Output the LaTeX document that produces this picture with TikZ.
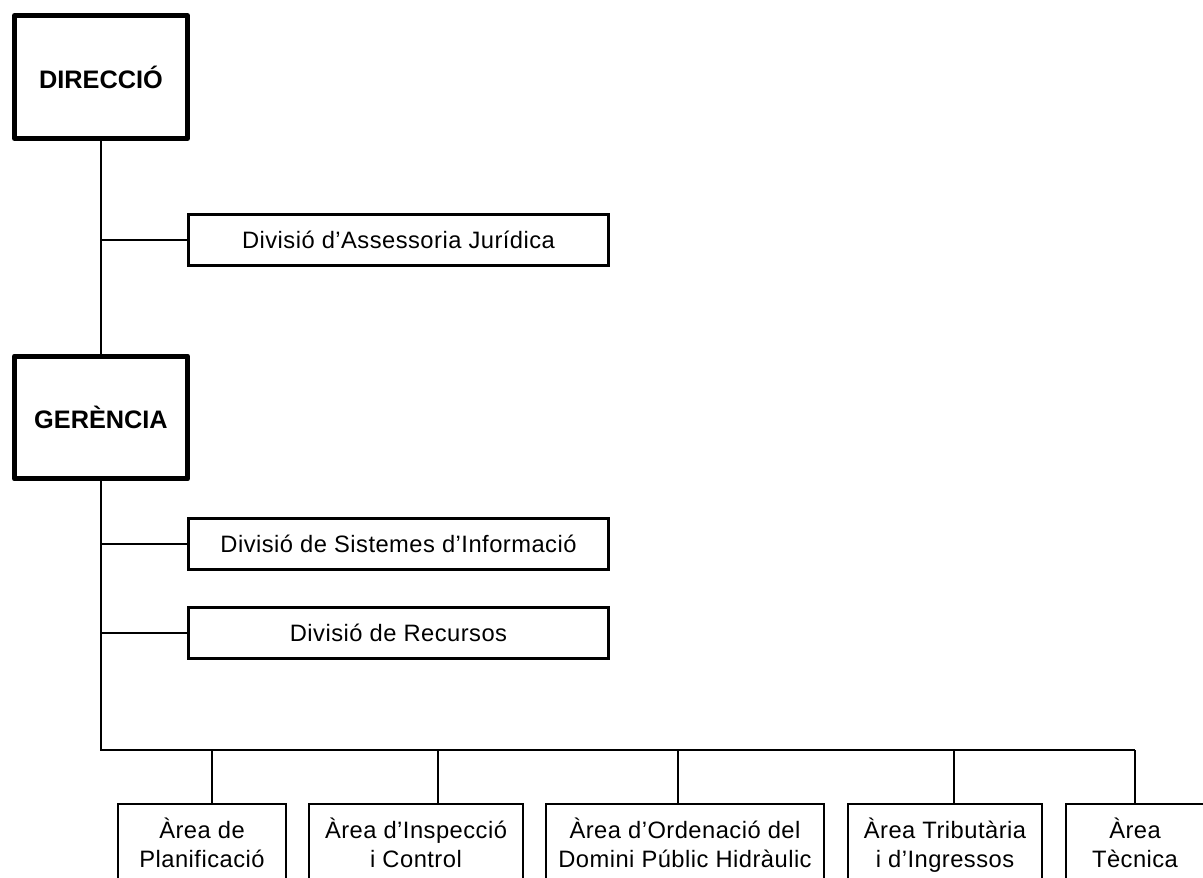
\documentclass[tikz,border=0pt]{standalone}
\usepackage{fontspec}
\setmainfont[LetterSpace=2]{Liberation Sans}
\newfontfamily\headfont{Liberation Sans}
\usetikzlibrary{positioning}

\begin{document}
\begin{tikzpicture}[x=0.02cm,y=-0.02cm,
  headbox/.style={draw,line width=0.1cm,line join=round,minimum width=3.46cm,minimum height=2.46cm,inner sep=0pt,font=\headfont\bfseries\fontsize{14.4pt}{17pt}\selectfont},
  divbox/.style={draw,line width=0.06cm,minimum width=8.4cm,minimum height=1.04cm,inner sep=0pt,font=\fontsize{13.5pt}{16pt}\selectfont},
  areabox/.style={draw,line width=0.04cm,minimum height=1.54cm,inner sep=0pt,align=center,text depth=0pt,font=\fontsize{13.5pt}{16.5pt}\selectfont},
  link/.style={line width=0.04cm}]
	 \useasboundingbox (0,0) rectangle (1203,878);
	 \node[headbox] (direccio) at (101,77) {DIRECCIÓ};
	 \node[headbox] (gerencia) at (101,417.5) {GERÈNCIA};
	 \node[divbox] (assessoria) at (398.5,240) {Divisió d’Assessoria Jurídica};
	 \node[divbox] (sistemes) at (398.5,544) {Divisió de Sistemes d’Informació};
	 \node[divbox] (recursos) at (398.5,633) {Divisió de Recursos};
	 \node[areabox,minimum width=3.36cm] (planif) at (202,842.5) {Àrea de\\Planificació};
	 \node[areabox,minimum width=4.28cm] (inspeccio) at (416,842.5) {Àrea d’Inspecció\\i Control};
	 \node[areabox,minimum width=5.56cm] (ordenacio) at (685,842.5) {Àrea d’Ordenació del\\Domini Públic Hidràulic};
	 \node[areabox,minimum width=3.88cm] (tributaria) at (945,842.5) {Àrea Tributària\\i d’Ingressos};
	 \node[areabox,minimum width=2.76cm] (tecnica) at (1135,842.5) {Àrea\\Tècnica};
	 \coordinate (bus) at (101,750);
	 \coordinate (d1) at (212,750);
	 \coordinate (d2) at (438,750);
	 \coordinate (d3) at (678,750);
	 \coordinate (d4) at (954,750);
	 \coordinate (d5) at (1135,750);
	 \draw[link] (direccio) -- (gerencia);
	 \draw[link] (gerencia) -- (bus) -- (d5);
	 \foreach \n in {assessoria,sistemes,recursos}
	   \draw[link] (direccio.south |- \n.west) -- (\n.west);
	 \foreach \n/\d in {planif/d1,inspeccio/d2,ordenacio/d3,tributaria/d4,tecnica/d5}
	   \draw[link] (\d) -- (\d |- \n.north);
	 \end{tikzpicture}
\end{document}
